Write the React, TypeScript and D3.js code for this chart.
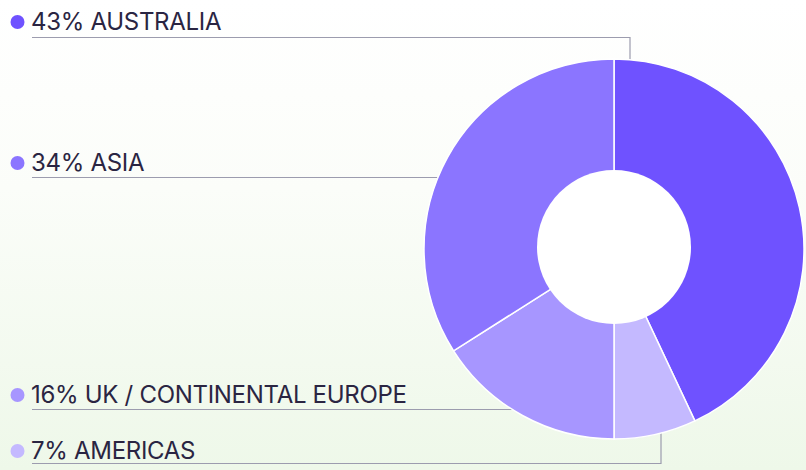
import React from "react";
import * as d3 from "d3";

const regions = ["AUSTRALIA", "AMERICAS", "UK / CONTINENTAL EUROPE", "ASIA"];
const shares = [43, 7, 16, 34];
const colors = ["#6f52ff", "#c4b9ff", "#a796ff", "#8b75ff"];
// label order top to bottom (index into regions)
const labelOrder = [0, 3, 2, 1];

const W = 806;
const H = 470;
const cx = 614;
const cy = 249;
const outerR = 190;
const innerR = 77;

export default function App() {
  const pie = d3
    .pie<number>()
    .sort(null)
    .value((d) => d)
    .startAngle(0)
    .endAngle(2 * Math.PI);
  const arcs = pie(shares);
  const arc = d3.arc<d3.PieArcDatum<number>>().innerRadius(0).outerRadius(outerR);

  const labelY = [30, 171, 403, 459];
  const lineY = [37.5, 177.5, 409.5, 463.5];

  const leader = (i: number, k: number) => {
    const y = lineY[k];
    if (i === 0) {
      const x = cx + 16;
      const yy = cy - Math.sqrt(outerR * outerR - 16 * 16);
      return `M32,${y}H${x}V${yy}`;
    }
    if (i === 1) {
      const x = 661;
      const yy = cy + Math.sqrt(outerR * outerR - (x - cx) * (x - cx));
      return `M32,${y}H${x}V${yy - 3}`;
    }
    const dy = y - cy;
    const x = cx - Math.sqrt(Math.max(0, outerR * outerR - dy * dy));
    return `M32,${y}H${x}`;
  };

  return (
    <svg width={W} height={H} style={{ position: "absolute", left: 0, top: 0 }}>
      <defs>
        <linearGradient id="bg" x1="0" y1="0" x2="0" y2="1">
          <stop offset="0%" stopColor="#ffffff" />
          <stop offset="40%" stopColor="#fbfdf9" />
          <stop offset="100%" stopColor="#eef8e9" />
        </linearGradient>
      </defs>
      <rect x={0} y={0} width={W} height={H} fill="url(#bg)" />
      {labelOrder.map((i, k) => (
        <path key={"l" + i} d={leader(i, k)} fill="none" stroke="#9c9cae" strokeWidth={1.2} />
      ))}
      <g transform={`translate(${cx},${cy})`}>
        {arcs.map((a, i) => (
          <path key={i} d={arc(a) || ""} fill={colors[i]} stroke="#ffffff" strokeWidth={1.5} />
        ))}
        <circle cx={0} cy={-2} r={innerR} fill="#ffffff" />
      </g>
      {labelOrder.map((i, k) => (
        <g key={"t" + i}>
          <circle cx={17.5} cy={labelY[k] - 8} r={7} fill={colors[i]} />
          <text
            x={31}
            y={labelY[k]}
            fontFamily="Inter, 'Liberation Sans', sans-serif"
            fontSize={24}
            letterSpacing={-0.3}
            fill="#2a2542"
          >
            {`${shares[i]}% ${regions[i]}`}
          </text>
        </g>
      ))}
    </svg>
  );
}
